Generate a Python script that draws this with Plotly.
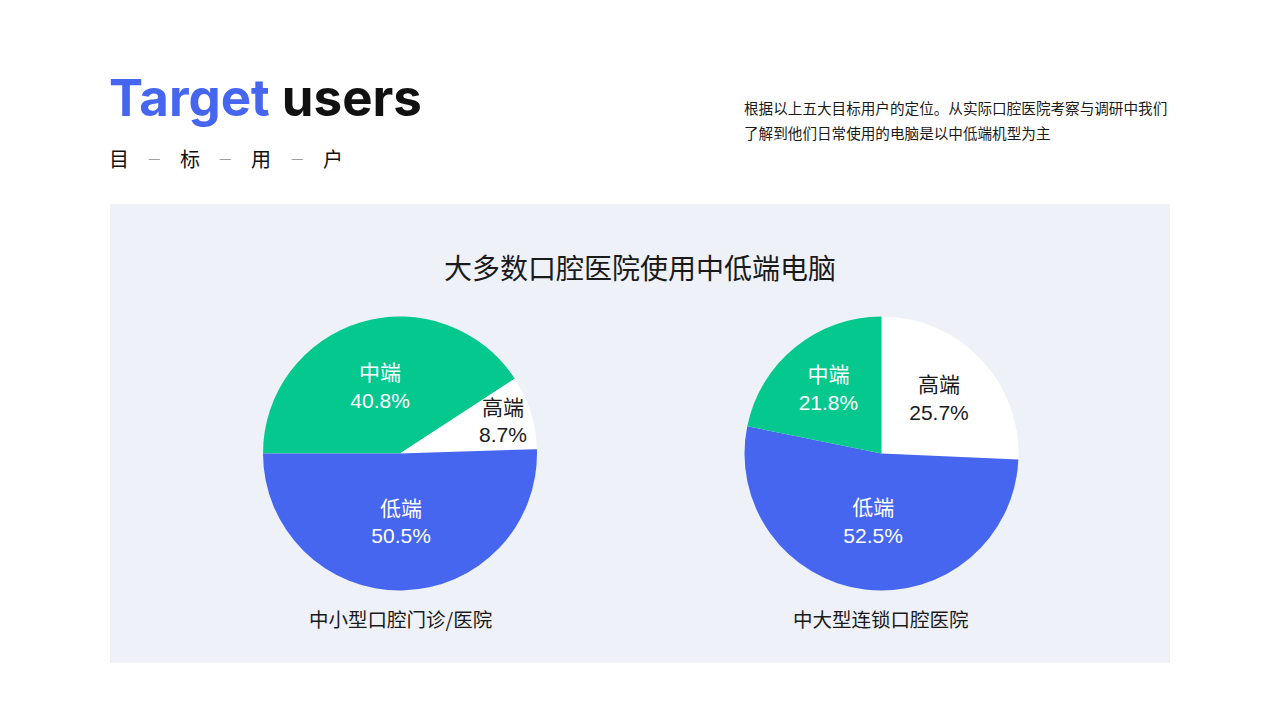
import plotly.graph_objects as go

# ---------------- data ----------------
title_main = ["Target", "users"]
subtitle_chars = ["目", "标", "用", "户"]
description = ["根据以上五大目标用户的定位。从实际口腔医院考察与调研中我们",
               "了解到他们日常使用的电脑是以中低端机型为主"]
chart_title = "大多数口腔医院使用中低端电脑"

left_name = "中小型口腔门诊/医院"
left_labels = ["中端", "高端", "低端"]
left_values = [40.8, 8.7, 50.5]

right_name = "中大型连锁口腔医院"
right_labels = ["高端", "低端", "中端"]
right_values = [25.7, 52.5, 21.8]

# ---------------- styles ----------------
BLUE = "#4666F0"
GREEN = "#05C88F"
WHITE = "#FFFFFF"
PANEL = "#EEF1F8"
CJK = "Noto Sans CJK SC"
MIX = "Liberation Sans, Noto Sans CJK SC"
color_map = {"中端": GREEN, "高端": WHITE, "低端": BLUE}
text_map = {"中端": "#FFFFFF", "高端": "#1A1A1A", "低端": "#FFFFFF"}

# the page body adds an 8px margin; the figure is sized to fit the window
OFF = 8
W, H = 1280 - 2 * OFF, 720 - 2 * OFF


def px(x):
    return (x - OFF) / W


def py(y):
    return 1 - (y - OFF) / H


fig = go.Figure()


def add_pie(labels, values, cx, cy, r, rotation):
    fig.add_trace(go.Pie(
        labels=labels,
        values=values,
        sort=False,
        direction="clockwise",
        rotation=rotation,
        marker=dict(colors=[color_map[l] for l in labels], line=dict(width=0)),
        texttemplate="%{label}<br>%{value:.1f}%",
        textposition="inside",
        insidetextorientation="horizontal",
        textfont=dict(family=MIX, size=21, color=[text_map[l] for l in labels]),
        hoverinfo="label+value",
        showlegend=False,
        domain=dict(x=[px(cx - r), px(cx + r)], y=[py(cy + r), py(cy - r)]),
    ))


add_pie(left_labels, left_values, 400, 453.5, 137, 270)
add_pie(right_labels, right_values, 881.5, 453.5, 137, 0)

# background panel
fig.add_shape(type="rect", xref="paper", yref="paper",
              x0=px(110), x1=px(1170), y0=py(663), y1=py(204),
              fillcolor=PANEL, line=dict(width=0), layer="below")

ann = []
# main title
ann.append(dict(x=px(107), y=py(97), xanchor="left", yanchor="middle",
                text=f"<span style='color:{BLUE}'>{title_main[0]}</span> "
                     f"<span style='color:#111111'>{title_main[1]}</span>",
                font=dict(family="Inter", size=51, color="#111111", weight=700),
                showarrow=False))
# subtitle characters with dashes
char_x = [119, 190, 261, 333]
for i, ch in enumerate(subtitle_chars):
    ann.append(dict(x=px(char_x[i]), y=py(158), xanchor="center", yanchor="middle",
                    text=ch, font=dict(family=CJK, size=20, color="#111111"),
                    showarrow=False))
    if i < len(subtitle_chars) - 1:
        ann.append(dict(x=px((char_x[i] + char_x[i + 1]) / 2), y=py(157),
                        xanchor="center", yanchor="middle", text="—",
                        font=dict(family=CJK, size=14, color="#A0A0A0"),
                        showarrow=False))
# description (two lines)
for i, line in enumerate(description):
    ann.append(dict(x=px(742), y=py(107 + 26 * i), xanchor="left", yanchor="middle",
                    align="left", text=line,
                    font=dict(family=CJK, size=14.6, color="#1A1A1A"),
                    showarrow=False))
# chart title
ann.append(dict(x=px(640), y=py(267), xanchor="center", yanchor="middle",
                text=chart_title, font=dict(family=CJK, size=28, color="#1A1A1A"),
                showarrow=False))
# pie names
ann.append(dict(x=px(400), y=py(618), xanchor="center", yanchor="middle",
                text=left_name, font=dict(family=CJK, size=19.5, color="#1A1A1A"),
                showarrow=False))
ann.append(dict(x=px(881), y=py(618), xanchor="center", yanchor="middle",
                text=right_name, font=dict(family=CJK, size=19.5, color="#1A1A1A"),
                showarrow=False))

fig.update_layout(
    width=W, height=H,
    margin=dict(l=0, r=0, t=0, b=0),
    paper_bgcolor="#FFFFFF",
    plot_bgcolor="#FFFFFF",
    annotations=ann,
    uniformtext=dict(minsize=21, mode="show"),
)

fig.write_html("out.html", config={"displayModeBar": False})
